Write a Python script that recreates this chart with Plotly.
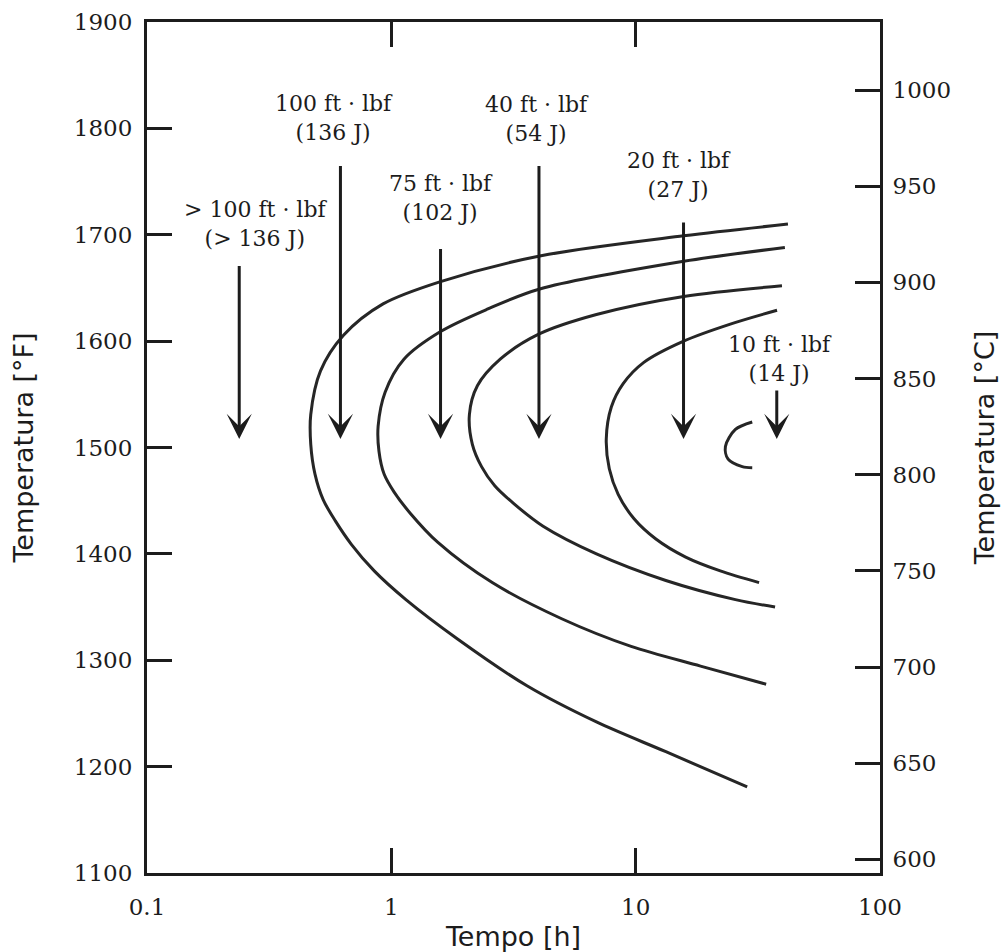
import numpy as np
import plotly.graph_objects as go

# ---- data (time in h, temperature in °F) ----
curve_a_time = [42.0, 15.72, 4.05, 1.59, 0.925, 0.637, 0.513, 0.468, 0.468, 0.487,
                0.526, 0.590, 0.686, 0.851, 1.147, 1.866, 3.59, 6.91, 13.29, 28.6]
curve_a_temp = [1710, 1699, 1680, 1656, 1635, 1605.5, 1572, 1531, 1503, 1475,
                1451, 1431, 1409, 1384, 1357, 1320, 1276, 1242, 1214, 1181]

curve_b_time = [40.8, 15.72, 4.05, 2.47, 1.59, 1.126, 0.943, 0.883, 0.890, 0.934,
                1.027, 1.197, 1.547, 2.588, 4.98, 9.58, 18.43, 34.2]
curve_b_temp = [1688, 1675, 1649, 1630, 1609, 1583, 1552, 1520, 1496.5, 1475,
                1458, 1438, 1411, 1373, 1339, 1313, 1294.5, 1277.5]

curve_c_time = [39.7, 15.72, 6.91, 4.01, 2.79, 2.25, 2.087, 2.146, 2.34, 2.65,
                3.18, 4.18, 6.91, 13.29, 25.6, 37.2]
curve_c_temp = [1652, 1642, 1625, 1606.5, 1583, 1558, 1531, 1503, 1482, 1464,
                1447, 1426, 1400, 1375, 1357, 1350]

curve_d_time = [37.9, 24.4, 15.72, 10.8, 8.89, 7.95, 7.58, 7.80, 8.48, 9.85,
                12.1, 16.02, 22.2, 32.0]
curve_d_temp = [1629, 1616, 1600, 1580, 1560, 1538, 1508, 1480, 1456, 1433,
                1414, 1397, 1384, 1373]

curve_e_time = [30.0, 25.6, 23.3, 23.9, 27.3, 30.0]
curve_e_temp = [1524, 1517, 1501, 1489, 1482, 1481]

arrow_time = [0.2385, 0.619, 1.59, 4.02, 15.7, 37.8]
arrow_top = [1672, 1766, 1688, 1766, 1713, 1555]
arrow_tip = [1508, 1508, 1508, 1508, 1508, 1508]

label_text = ["&gt; 100 ft · lbf<br>(&gt; 136 J)", "100 ft · lbf<br>(136 J)",
              "75 ft · lbf<br>(102 J)", "40 ft · lbf<br>(54 J)",
              "20 ft · lbf<br>(27 J)", "10 ft · lbf<br>(14 J)"]
label_time = [0.277, 0.58, 1.59, 3.94, 15.0, 38.9]
label_temp = [1710, 1810, 1735, 1809, 1756, 1583]

x_ticks = [0.1, 1, 10, 100]
x_ticktext = ["0.1", "1", "10", "100"]
f_ticks = [1100, 1200, 1300, 1400, 1500, 1600, 1700, 1800, 1900]
c_ticks = [600, 650, 700, 750, 800, 850, 900, 950, 1000]

f_range = [1100, 1900]
c_range = [592.9, 1035.4]

INK = "#1c1c1c"
SERIF = "DejaVu Serif"
SANS = "DejaVu Sans"

fig = go.Figure()

for tx, ty in [(curve_a_time, curve_a_temp), (curve_b_time, curve_b_temp),
               (curve_c_time, curve_c_temp), (curve_d_time, curve_d_temp),
               (curve_e_time, curve_e_temp)]:
    fig.add_trace(go.Scatter(x=tx, y=ty, mode="lines",
                             line=dict(color="#262626", width=3, shape="spline", smoothing=0.9),
                             hoverinfo="skip", showlegend=False))

# invisible trace so the °C axis is drawn
fig.add_trace(go.Scatter(x=[x_ticks[1]], y=[c_ticks[4]], yaxis="y2", mode="markers",
                         marker=dict(opacity=0), hoverinfo="skip", showlegend=False))

for t, top, tip in zip(arrow_time, arrow_top, arrow_tip):
    fig.add_annotation(x=np.log10(t), y=tip, ax=np.log10(t), ay=top,
                       xref="x", yref="y", axref="x", ayref="y",
                       text="", showarrow=True, arrowhead=3, arrowsize=1.4,
                       arrowwidth=3, arrowcolor=INK)

for txt, t, temp in zip(label_text, label_time, label_temp):
    fig.add_annotation(x=np.log10(t), y=temp, xref="x", yref="y", text=txt,
                       showarrow=False, align="center",
                       font=dict(family=SERIF, size=22, color=INK))

axis_common = dict(ticks="inside", ticklen=25, tickwidth=3, tickcolor=INK,
                   showline=True, linewidth=3, linecolor=INK,
                   showgrid=False, zeroline=False, automargin=False,
                   tickfont=dict(family=SERIF, size=23, color=INK))

fig.update_layout(
    width=1006, height=952,
    margin=dict(l=147, r=126, t=22, b=79),
    paper_bgcolor="white", plot_bgcolor="white",
    xaxis=dict(type="log", range=[-1, 2], tickvals=x_ticks, ticktext=x_ticktext,
               mirror="ticks", ticklabelstandoff=11,
               title=dict(text="Tempo [h]", font=dict(family=SANS, size=27, color=INK), standoff=12),
               **axis_common),
    yaxis=dict(range=f_range, tickvals=f_ticks, ticklabelstandoff=7,
               title=dict(text="Temperatura [°F]", font=dict(family=SANS, size=27, color=INK), standoff=33),
               **axis_common),
    yaxis2=dict(range=c_range, tickvals=c_ticks, overlaying="y", side="right", anchor="x",
                ticklabelstandoff=5,
                title=dict(text="Temperatura [°C]", font=dict(family=SANS, size=27, color=INK), standoff=25),
                **axis_common),
)

fig.write_html("out.html")
